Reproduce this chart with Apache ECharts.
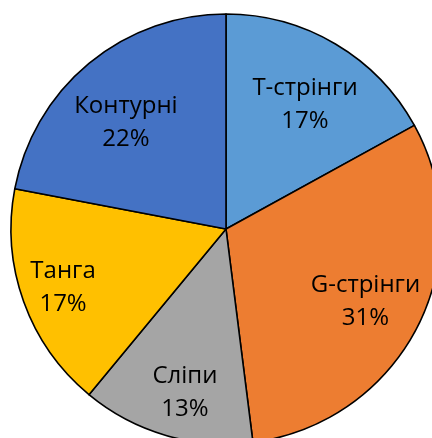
<!DOCTYPE html>
<html>
<head>
<meta charset="utf-8">
<script src="https://cdn.jsdelivr.net/npm/echarts@6/dist/echarts.min.js"></script>
<style>
html,body{margin:0;padding:0;background:#fff;}
#c{width:432px;height:438px;}
</style>
</head>
<body>
<div id="c"></div>
<script>
const categories = ['Т-стрінги', 'G-стрінги', 'Сліпи', 'Танга', 'Контурні'];
const values = [17, 31, 13, 17, 22];
const colors = ['#5B9BD5', '#ED7D31', '#A5A5A5', '#FFC000', '#4472C4'];
// label placement per slice: fraction of radius from centre, and angle tweak (degrees)
const labelRadiusRatio = [0.684, 0.732, 0.784, 0.806, 0.68];
const labelAngleShift = [1.9, 0.6, -2.1, -0.1, -3.6];

const CX = 226, CY = 229, R = 215;
const total = values.reduce((a, b) => a + b, 0);

const chart = echarts.init(document.getElementById('c'), null, {renderer: 'canvas'});
chart.setOption({
  animation: false,
  series: [{
    type: 'pie',
    center: [CX, CY],
    radius: R,
    startAngle: 90,
    clockwise: true,
    silent: true,
    data: categories.map((n, i) => ({name: n, value: values[i], itemStyle: {color: colors[i]}})),
    itemStyle: {borderColor: '#000', borderWidth: 1.6},
    label: {
      show: true,
      position: 'inside',
      formatter: '{b}\n{c}%',
      fontFamily: 'Open Sans',
      fontSize: 24,
      lineHeight: 33,
      color: '#000',
      align: 'center'
    },
    labelLine: {show: false},
    emphasis: {disabled: true},
    labelLayout: function (p) {
      const i = p.dataIndex;
      let cum = 0;
      for (let k = 0; k < i; k++) cum += values[k];
      const mid = (cum + values[i] / 2) / total * 2 * Math.PI + labelAngleShift[i] * Math.PI / 180;
      const rr = R * labelRadiusRatio[i];
      return {
        x: CX + rr * Math.sin(mid),
        y: CY - rr * Math.cos(mid),
        align: 'center',
        verticalAlign: 'middle'
      };
    }
  }]
});
</script>
</body>
</html>
